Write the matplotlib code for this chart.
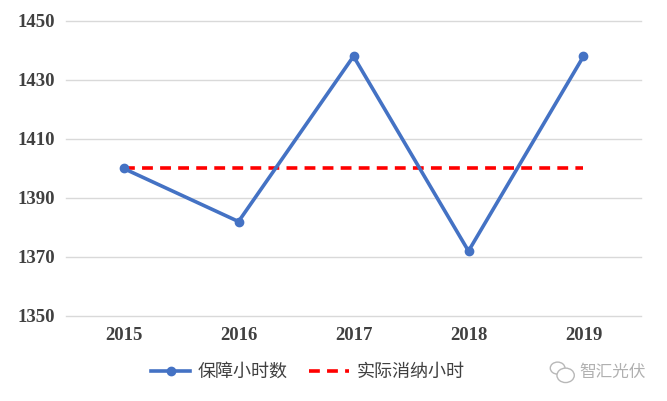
import matplotlib.pyplot as plt
from matplotlib.patches import Ellipse

years = ['2015', '2016', '2017', '2018', '2019']
guaranteed = [1400, 1382, 1438, 1372, 1438]
actual = [1400, 1400, 1400, 1400, 1400]
yticks = [1350, 1370, 1390, 1410, 1430, 1450]

plt.rcParams['font.family'] = ['Noto Sans CJK SC', 'DejaVu Sans']

fig = plt.figure(figsize=(6.67, 4.01), dpi=100)
ax = fig.add_axes([0.099, 0.212, 0.862, 0.736])

x = list(range(len(years)))
ax.plot(x, guaranteed, color='#4472C4', linewidth=2.6, marker='o', markersize=6,
        label='保障小时数', zorder=3)
ax.plot(x, actual, color='#FF0000', linewidth=2.6, linestyle=(0, (3, 2)),
        label='实际消纳小时', zorder=2)

ax.set_xlim(-0.5, len(years) - 0.5)
ax.set_ylim(1350, 1450)
ax.set_yticks(yticks)
ax.set_xticks(x)
ax.set_xticklabels(years)
ax.grid(axis='y', color='#D9D9D9', linewidth=1)
for g in ax.get_ygridlines():
    g.set_clip_on(False)
ax.set_axisbelow(True)
for s in ax.spines.values():
    s.set_visible(False)
ax.tick_params(length=0, pad=8, colors='#404040')
for lab in ax.get_xticklabels() + ax.get_yticklabels():
    lab.set_family('Liberation Serif')
    lab.set_fontweight('bold')
    lab.set_fontsize(13.5)
ax.tick_params(axis='x', pad=8)

leg = fig.legend(loc='center', bbox_to_anchor=(0.461, 0.072), ncol=2, frameon=False,
                 handlelength=2.2, columnspacing=1.2, handletextpad=0.4,
                 prop={'weight': 'medium', 'size': 13})
for t in leg.get_texts():
    t.set_color('#404040')

# watermark
fig.text(0.918, 0.072, '智汇光伏', color='#B0B0B0', fontsize=12, ha='center', va='center')
fig.patches.append(Ellipse((0.836, 0.082), 0.022, 0.03, transform=fig.transFigure,
                           fill=False, edgecolor='#B8B8B8', linewidth=1))
fig.patches.append(Ellipse((0.848, 0.064), 0.026, 0.036, transform=fig.transFigure,
                           facecolor='white', edgecolor='#B8B8B8', linewidth=1))

fig.savefig('out.png', dpi=100)
